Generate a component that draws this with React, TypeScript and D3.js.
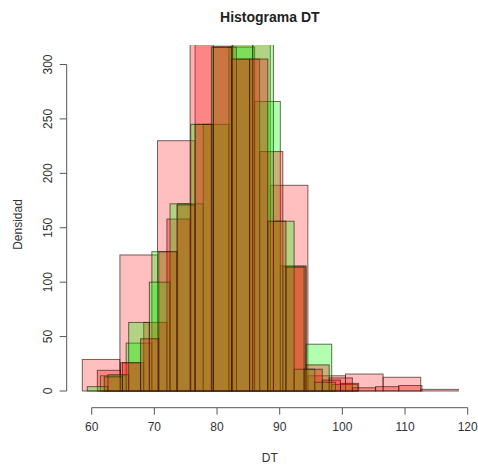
import React from 'react';
import * as d3 from 'd3';

// bin edges and heights for each overlaid histogram
const breaksP = [58.5, 64.5, 70.5, 76.5, 82.5, 88.5, 94.5, 100.5, 106.5, 112.5, 118.5];
const countsP = [29, 125, 230, 345, 345, 189, 14, 15.6, 12.6, 1.5];

const breaksG1 = [61.4, 65.5, 69.6, 73.7, 77.8, 81.9, 86.0, 90.1, 94.2, 98.3, 102.4];
const countsG1 = [14, 44, 128, 172, 245, 316, 266, 115, 43, 6];

const breaksR1 = [60.9, 64.6, 68.3, 72.0, 75.7, 79.4, 83.1, 86.8, 90.5, 94.2, 97.9, 101.6, 105.3, 109.0, 112.7];
const countsR1 = [19, 26, 63, 158, 345, 316, 305, 220, 114, 24, 12, 3, 4, 5];

const breaksG2 = [59.3, 62.6, 65.9, 69.2, 72.5, 75.8, 79.1, 82.4, 85.7, 89.0, 92.3, 95.6, 98.9];
const countsG2 = [4, 15, 63, 100, 172, 245, 316, 330, 345, 156, 20, 8];

const breaksR2 = [62.0, 64.9, 67.8, 70.7, 73.6, 76.5, 79.4, 82.3, 85.2, 88.1, 91.0, 93.9, 96.8, 99.7, 102.6];
const countsR2 = [13, 26, 48, 128, 171, 245, 316, 305, 305, 156, 114, 20, 10, 7];

const xTicks = [60, 70, 80, 90, 100, 110, 120];
const yTicks = [0, 50, 100, 150, 200, 250, 300];

const title = 'Histograma DT';
const xLabel = 'DT';
const yLabel = 'Densidad';

const RED = 'rgba(255,0,0,0.25)';
const RED2 = 'rgba(255,0,0,0.3)';
const GREEN = 'rgba(0,255,0,0.3)';

const layers = [
  { breaks: breaksP, counts: countsP, fill: RED },
  { breaks: breaksG1, counts: countsG1, fill: GREEN },
  { breaks: breaksR1, counts: countsR1, fill: RED2 },
  { breaks: breaksG2, counts: countsG2, fill: GREEN },
  { breaks: breaksR2, counts: countsR2, fill: RED2 },
];

const font = '"Liberation Sans", Arial, sans-serif';

export default function App() {
  const width = 478;
  const height = 466;
  const plotTop = 45;
  const plotBottom = 404;
  const plotLeft = 66.7;
  const plotRight = 473;

  const x = d3.scaleLinear().domain([60, 120]).range([91.7, 467.7]);
  const y = d3.scaleLinear().domain([0, 300]).range([391, 64.5]);

  const axisY = 407.7;
  const cx = (plotLeft + plotRight) / 2;

  return (
    <svg width={width} height={height} style={{ position: 'absolute', left: 0, top: 0, background: '#fff' }}>
      <defs>
        <clipPath id="plot">
          <rect x={plotLeft} y={plotTop} width={plotRight - plotLeft} height={plotBottom - plotTop} />
        </clipPath>
      </defs>

      <g clipPath="url(#plot)">
        {layers.map((l, i) => (
          <g key={i}>
            {l.counts.map((c, j) => (
              <rect
                key={j}
                x={x(l.breaks[j])}
                y={y(c)}
                width={x(l.breaks[j + 1]) - x(l.breaks[j])}
                height={y(0) - y(c)}
                fill={l.fill}
                stroke="#2a1a10"
                strokeOpacity={0.65}
                strokeWidth={1}
              />
            ))}
          </g>
        ))}
      </g>

      {/* x axis */}
      <g fill="none" stroke="#555" strokeWidth={1}>
        <line x1={x(60)} x2={x(120)} y1={axisY} y2={axisY} />
        {xTicks.map(t => (
          <line key={t} x1={x(t)} x2={x(t)} y1={axisY} y2={axisY + 7} />
        ))}
      </g>
      {xTicks.map(t => (
        <text key={t} x={x(t)} y={431} textAnchor="middle" fontFamily={font} fontSize={12} fill="#333">
          {t}
        </text>
      ))}

      {/* y axis */}
      <g fill="none" stroke="#555" strokeWidth={1}>
        <line x1={plotLeft} x2={plotLeft} y1={y(0)} y2={y(300)} />
        {yTicks.map(t => (
          <line key={t} x1={plotLeft} x2={plotLeft - 7} y1={y(t)} y2={y(t)} />
        ))}
      </g>
      {yTicks.map(t => (
        <text
          key={t}
          transform={`translate(52,${y(t)}) rotate(-90)`}
          textAnchor="middle"
          fontFamily={font}
          fontSize={12}
          fill="#333"
        >
          {t}
        </text>
      ))}

      <text x={cx} y={22} textAnchor="middle" fontFamily={font} fontSize={14} fontWeight="bold" fill="#222">
        {title}
      </text>
      <text x={cx} y={462} textAnchor="middle" fontFamily={font} fontSize={12} fill="#333">
        {xLabel}
      </text>
      <text
        transform={`translate(22,${(plotTop + plotBottom) / 2}) rotate(-90)`}
        textAnchor="middle"
        fontFamily={font}
        fontSize={12}
        fill="#333"
      >
        {yLabel}
      </text>
    </svg>
  );
}
